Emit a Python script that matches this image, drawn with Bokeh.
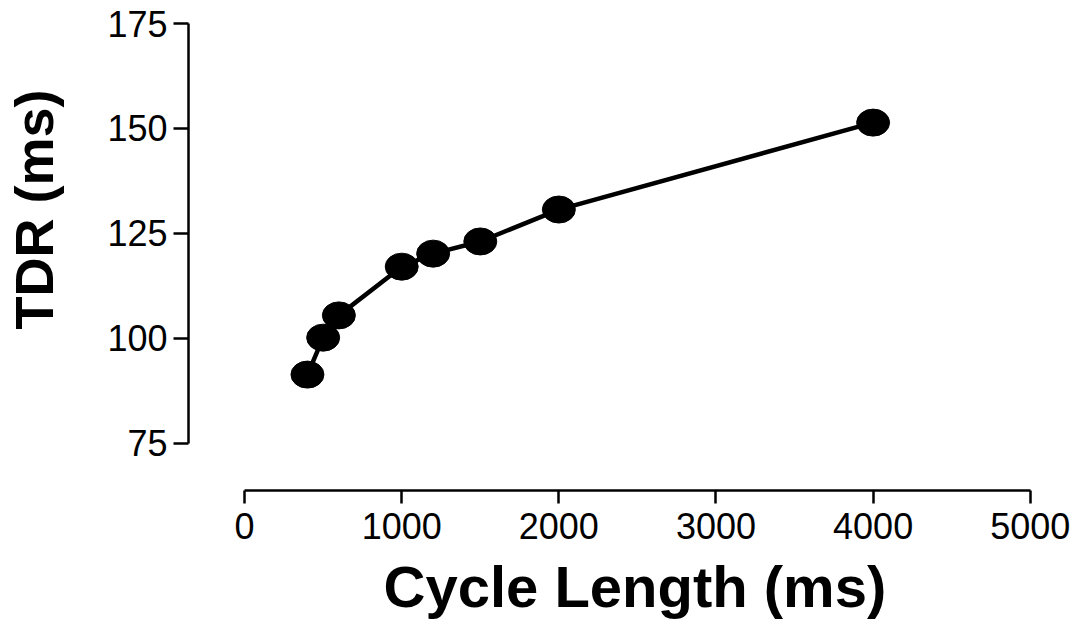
from bokeh.plotting import figure
from bokeh.models import Range1d, Title, FixedTicker
from bokeh.embed import file_html
from bokeh.resources import INLINE

# Data
cycle_length = [400, 500, 600, 1000, 1200, 1500, 2000, 4000]
tdr = [91.4, 100.2, 105.5, 117.1, 120.2, 123.1, 130.7, 151.4]
x_ticks = [0, 1000, 2000, 3000, 4000, 5000]
y_ticks = [75, 100, 125, 150, 175]
x_label = "Cycle Length (ms)"
y_label = "TDR (ms)"

FONT = "Liberation Sans"

p = figure(width=1079, height=623, output_backend="svg", toolbar_location=None,
           x_range=Range1d(-357, 5008), y_range=Range1d(63.8, 175.0),
           min_border_left=188, min_border_right=48, min_border_top=23,
           min_border_bottom=133)

p.outline_line_color = None
p.xgrid.visible = False
p.ygrid.visible = False
p.background_fill_color = "white"
p.border_fill_color = "white"

p.line(cycle_length, tdr, line_color="black", line_width=4.5)
p.ellipse(cycle_length, tdr, width=33, height=27, width_units="screen",
          height_units="screen", fill_color="black", line_color="black")

for ax in (p.xaxis[0], p.yaxis[0]):
    ax.axis_line_width = 2.5
    ax.axis_line_color = "black"
    ax.major_tick_line_width = 2.5
    ax.major_tick_line_color = "black"
    ax.major_tick_in = 0
    ax.minor_tick_line_color = None
    ax.major_label_text_font = FONT
    ax.major_label_text_font_size = "36px"
    ax.major_label_text_color = "black"
    # invisible spacer label, used only to push the titles outward
    ax.axis_label = " "
    ax.axis_label_text_font_size = "1px"

p.xaxis.ticker = FixedTicker(ticks=x_ticks)
p.yaxis.ticker = FixedTicker(ticks=y_ticks)
p.xaxis.bounds = (0, 5000)
p.yaxis.bounds = (75, 175)
p.xaxis.major_tick_out = 13
p.yaxis.major_tick_out = 15
p.xaxis.major_label_standoff = 9
p.yaxis.major_label_standoff = 6
p.xaxis.axis_label_standoff = 2
p.yaxis.axis_label_standoff = 37

xt = Title(text=x_label, align="left", offset=195, text_font=FONT,
           text_font_size="58px", text_font_style="bold", text_color="black",
           standoff=8)
p.add_layout(xt, "below")
yt = Title(text=y_label, align="left", offset=161, text_font=FONT,
           text_font_size="54px", text_font_style="bold", text_color="black",
           standoff=0)
p.add_layout(yt, "left")

open("out.html", "w").write(file_html(p, INLINE))
